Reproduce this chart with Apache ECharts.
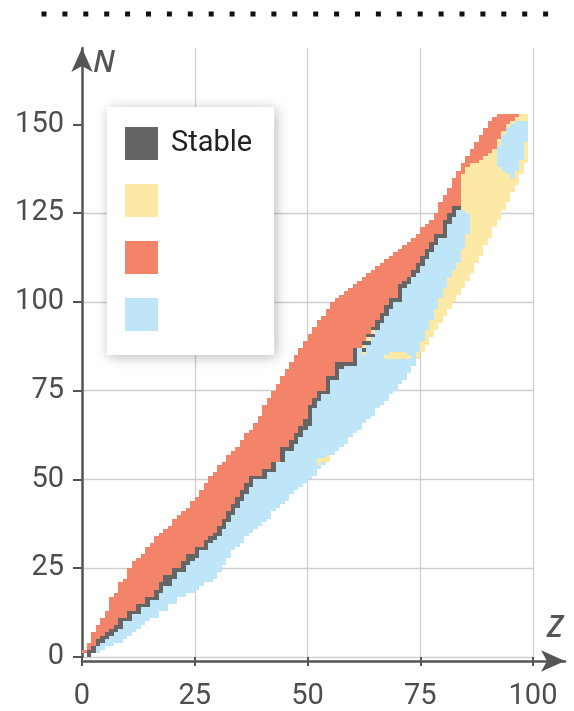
<!DOCTYPE html>
<html>
<head>
<meta charset="utf-8">
<title>Chart of nuclides</title>
<script src="https://cdn.jsdelivr.net/npm/echarts/dist/echarts.min.js"></script>
<style>
  html, body { margin: 0; padding: 0; background: #fff; }
  #chart { width: 574px; height: 711px; }
</style>
</head>
<body>
<div id="chart"></div>
<script>
// one entry per proton number Z = 0..98 (neutron number N)
const nMin         = [1,0,1,1,2,3,3,4,4,5,6,7,8,9,10,11,11,13,13,15,15,17,17,18,18,19,20,21,21,22,24,26,28,30,31,32,34,35,36,37,38,39,41,42,43,44,46,47,48,49,50,51,53,54,55,57,58,59,60,62,63,64,66,67,68,70,71,72,74,75,77,78,80,82,84,86,88,90,92,94,96,98,100,102,104,106,108,111,113,116,118,121,123,126,128,131,133,136,139];
const alphaLowTop  = [0,-1,0,0,1,2,2,3,3,4,5,6,7,8,9,10,10,12,12,14,14,16,16,17,17,18,19,20,20,21,23,25,27,29,30,31,33,34,35,36,37,38,40,41,42,43,45,46,47,48,49,50,52,53,54,56,57,58,59,61,62,63,65,66,67,69,70,71,73,74,76,77,79,81,85,88,91,94,97,100,103,106,108,110,114,118,125,127,128,130,132,134,137,136,135,134,136,139,144];
const betaPlusTop  = [0,-1,0,2,3,4,5,6,7,9,9,11,11,13,13,15,15,17,19,19,21,23,23,25,26,27,29,29,31,32,33,35,37,39,41,43,45,47,49,49,49,51,51,54,54,57,57,59,61,63,64,69,71,73,73,77,77,80,81,81,81,86,85,87,89,91,93,95,97,99,99,103,104,106,107,109,111,113,115,117,117,121,123,125,125,124,125,127,128,130,132,134,143,146,148,149,150,150,150];
const stableTop    = [0,1,2,4,5,6,7,8,10,10,12,12,14,14,16,16,18,20,22,22,24,24,26,28,28,30,30,32,33,34,36,38,40,42,44,46,48,50,50,50,52,52,54,54,58,58,60,62,64,66,70,72,74,74,78,78,82,82,82,82,86,86,88,90,92,94,96,98,100,100,104,105,106,108,110,112,114,116,118,118,122,124,126,126,125,124,125,127,128,130,132,134,143,146,148,149,150,150,150];
const alphaHighTop = [0,1,2,4,5,6,7,8,10,10,12,12,14,14,16,16,18,20,22,22,24,24,26,28,28,30,30,32,33,34,36,38,40,42,44,46,48,50,50,50,52,52,54,54,58,58,60,62,64,66,70,72,74,74,78,78,82,82,82,82,86,86,88,90,92,94,96,98,100,100,104,105,106,108,110,112,114,116,118,118,122,124,126,126,135,137,138,138,139,140,141,142,145,147,149,150,151,152,152];
const nMax         = [1,3,6,8,10,12,16,17,20,21,24,26,27,28,30,31,33,34,35,36,38,39,40,41,43,44,46,48,50,51,53,54,56,57,58,60,62,63,65,67,70,72,74,76,78,80,82,84,86,88,90,92,94,95,97,99,100,101,102,103,104,105,106,107,108,109,110,111,112,113,114,115,116,117,118,120,121,122,124,127,129,131,134,136,138,140,142,144,146,148,150,151,152,152,152,152,152,152,152];
// isolated alpha emitters inside the beta+ band, [Z, N]
const alphaSpots = [[52,54],[52,55],[53,55],[54,55],[54,56],[62,85],[62,87],[63,89],[64,91],
  [67,84],[68,84],[69,84],[70,84],[71,84],[72,84],[68,85],[69,85],[70,85],[71,85]];

const yTicks = [0, 25, 50, 75, 100, 125, 150];

const colStable = '#656565';
const colAlpha = '#fce9a6';
const colBetaMinus = '#f3846a';
const colBetaPlus = '#bfe6f8';
const font = 'Roboto';

// column ranges [Z, firstN, lastN]
function columns(lowArr, highArr, offLow) {
  const out = [];
  for (let z = 0; z < nMin.length; z++) {
    const a = lowArr[z] + offLow, b = highArr[z];
    if (b >= a) out.push([z, a, b]);
  }
  return out;
}

const betaPlusData = columns(alphaLowTop, betaPlusTop, 1);
const stableData = columns(betaPlusTop, stableTop, 1);
const betaMinusData = columns(alphaHighTop, nMax, 1);
const alphaData = columns(nMin, alphaLowTop, 0)
  .concat(columns(stableTop, alphaHighTop, 1))
  .concat(alphaSpots.map(d => [d[0], d[1], d[1]]));

function renderCell(params, api) {
  const z = api.value(0);
  const p0 = api.coord([z, api.value(1)]);
  const p1 = api.coord([z + 1, api.value(2) + 1]);
  const x0 = Math.round(p0[0]), x1 = Math.round(p1[0]);
  const y0 = Math.round(p0[1]), y1 = Math.round(p1[1]);
  return {
    type: 'rect',
    shape: { x: x0, y: y1, width: x1 - x0, height: y0 - y1 },
    style: { fill: api.visual('color') }
  };
}

function cellSeries(name, color, data, z) {
  return {
    name: name,
    type: 'custom',
    xAxisIndex: 0,
    yAxisIndex: 0,
    renderItem: renderCell,
    itemStyle: { color: color },
    encode: { x: 0, y: [1, 2] },
    data: data,
    z: z,
    silent: true
  };
}

const chart = echarts.init(document.getElementById('chart'));
const option = {
  animation: false,
  backgroundColor: '#fff',
  textStyle: { fontFamily: font },
  graphic: [{
    type: 'line',
    shape: { x1: 41.5, y1: 14, x2: 549, y2: 14 },
    style: { stroke: '#111', lineWidth: 5, lineDash: [5, 15.9] }
  }],
  legend: {
    data: ['Stable', 'α decay', 'β⁻ decay', 'β⁺ decay'],
    orient: 'vertical',
    left: 107,
    top: 107,
    icon: 'rect',
    itemWidth: 33,
    itemHeight: 33,
    itemGap: 24,
    padding: [20, 22, 24, 18],
    backgroundColor: '#fff',
    shadowBlur: 12,
    shadowColor: 'rgba(0,0,0,0.28)',
    shadowOffsetX: 2,
    shadowOffsetY: 2,
    selectedMode: false,
    formatter: name => (name === 'Stable' ? name : ''),
    textStyle: { fontSize: 29, color: '#222', fontFamily: font, padding: [0, 0, 0, 8] }
  },
  grid: [
    { left: 82, right: 41, top: 48, bottom: 50 },
    { left: 82, right: 9, top: 48, bottom: 50 }
  ],
  xAxis: [{
    type: 'value',
    gridIndex: 0,
    min: 0,
    max: 100,
    interval: 25,
    axisLine: { show: false },
    axisTick: { show: true, length: 9, lineStyle: { color: '#555', width: 2 } },
    axisLabel: { fontSize: 29, color: '#4d4d4d', margin: 25, fontFamily: font },
    splitLine: { show: true, lineStyle: { color: '#cfcfcf', width: 1.3 } }
  }, {
    type: 'value',
    gridIndex: 1,
    min: 0,
    max: 107,
    name: 'Z',
    nameLocation: 'end',
    nameGap: 0,
    nameTextStyle: {
      fontSize: 30, fontStyle: 'italic', fontWeight: 600, color: '#555',
      align: 'right', verticalAlign: 'bottom', padding: [0, 2, 18, 0], fontFamily: 'Open Sans'
    },
    axisLine: { show: true, symbol: ['none', 'arrow'], symbolSize: [16, 24], lineStyle: { color: '#555', width: 2.5 } },
    axisTick: { show: false },
    axisLabel: { show: false },
    splitLine: { show: false }
  }],
  yAxis: [{
    type: 'value',
    gridIndex: 0,
    min: 0,
    max: 171.5,
    interval: 25,
    name: 'N',
    nameLocation: 'end',
    nameGap: 0,
    nameTextStyle: {
      fontSize: 30, fontStyle: 'italic', fontWeight: 600, color: '#555',
      align: 'left', verticalAlign: 'top', padding: [0, 0, 0, 11], fontFamily: 'Open Sans'
    },
    axisLine: { show: true, symbol: ['none', 'arrow'], symbolSize: [16, 24], lineStyle: { color: '#555', width: 2.5 } },
    axisTick: { show: true, length: 9, customValues: yTicks, lineStyle: { color: '#555', width: 2 } },
    axisLabel: { fontSize: 29, color: '#4d4d4d', margin: 18, customValues: yTicks, fontFamily: font },
    splitLine: { show: true, showMaxLine: false, lineStyle: { color: '#cfcfcf', width: 1.3 } }
  }, {
    type: 'value',
    gridIndex: 1,
    min: 0,
    max: 171.5,
    show: false
  }],
  series: [
    cellSeries('β⁺ decay', colBetaPlus, betaPlusData, 2),
    cellSeries('β⁻ decay', colBetaMinus, betaMinusData, 2),
    cellSeries('Stable', colStable, stableData, 3),
    cellSeries('α decay', colAlpha, alphaData, 4)
  ]
};
chart.setOption(option);
</script>
</body>
</html>
